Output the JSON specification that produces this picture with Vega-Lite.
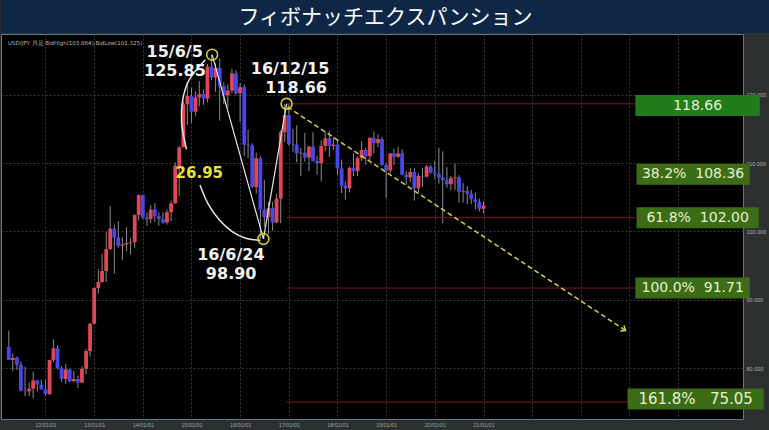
{
  "$schema": "https://vega.github.io/schema/vega-lite/v6.json",
  "background": "#2c3030",
  "padding": 0,
  "spacing": 0,
  "config": {"view": {"stroke": null}, "text": {"font": "DejaVu Sans"}},
  "datasets": {
    "candles": [
      {"d":"2011-04-01","o":83.1,"h":85.5,"l":81.3,"c":81.2},
      {"d":"2011-05-01","o":81.2,"h":82.2,"l":79.6,"c":81.5},
      {"d":"2011-06-01","o":81.5,"h":81.7,"l":79.7,"c":80.5},
      {"d":"2011-07-01","o":80.5,"h":81.0,"l":76.6,"c":76.7},
      {"d":"2011-08-01","o":76.7,"h":80.2,"l":75.9,"c":76.6},
      {"d":"2011-09-01","o":76.6,"h":77.9,"l":75.9,"c":77.0},
      {"d":"2011-10-01","o":77.0,"h":79.5,"l":75.6,"c":78.2},
      {"d":"2011-11-01","o":78.2,"h":78.3,"l":76.6,"c":77.6},
      {"d":"2011-12-01","o":77.6,"h":78.3,"l":76.8,"c":76.9},
      {"d":"2012-01-01","o":76.9,"h":78.3,"l":76.0,"c":76.2},
      {"d":"2012-02-01","o":76.2,"h":81.2,"l":76.1,"c":81.2},
      {"d":"2012-03-01","o":81.2,"h":84.2,"l":80.9,"c":82.9},
      {"d":"2012-04-01","o":82.9,"h":83.3,"l":79.8,"c":80.0},
      {"d":"2012-05-01","o":80.0,"h":80.3,"l":78.0,"c":78.4},
      {"d":"2012-06-01","o":78.4,"h":80.6,"l":77.7,"c":79.8},
      {"d":"2012-07-01","o":79.8,"h":79.9,"l":77.9,"c":78.1},
      {"d":"2012-08-01","o":78.1,"h":79.6,"l":78.0,"c":78.4},
      {"d":"2012-09-01","o":78.4,"h":78.9,"l":77.1,"c":77.9},
      {"d":"2012-10-01","o":77.9,"h":80.3,"l":77.8,"c":79.9},
      {"d":"2012-11-01","o":79.9,"h":82.8,"l":79.1,"c":82.5},
      {"d":"2012-12-01","o":82.5,"h":86.6,"l":81.7,"c":86.5},
      {"d":"2013-01-01","o":86.5,"h":91.8,"l":86.4,"c":91.7},
      {"d":"2013-02-01","o":91.7,"h":94.5,"l":90.9,"c":92.6},
      {"d":"2013-03-01","o":92.6,"h":96.7,"l":92.5,"c":94.2},
      {"d":"2013-04-01","o":94.2,"h":99.9,"l":92.6,"c":97.4},
      {"d":"2013-05-01","o":97.4,"h":103.7,"l":97.3,"c":100.4},
      {"d":"2013-06-01","o":100.4,"h":101.0,"l":93.8,"c":99.1},
      {"d":"2013-07-01","o":99.1,"h":101.5,"l":97.6,"c":97.9},
      {"d":"2013-08-01","o":97.9,"h":99.1,"l":95.8,"c":98.1},
      {"d":"2013-09-01","o":98.1,"h":100.6,"l":97.1,"c":98.3},
      {"d":"2013-10-01","o":98.3,"h":99.0,"l":96.6,"c":98.4},
      {"d":"2013-11-01","o":98.4,"h":102.5,"l":97.6,"c":102.4},
      {"d":"2013-12-01","o":102.4,"h":105.4,"l":101.6,"c":105.3},
      {"d":"2014-01-01","o":105.3,"h":105.4,"l":101.8,"c":102.0},
      {"d":"2014-02-01","o":102.0,"h":102.8,"l":100.8,"c":101.8},
      {"d":"2014-03-01","o":101.8,"h":103.8,"l":101.2,"c":103.2},
      {"d":"2014-04-01","o":103.2,"h":104.1,"l":101.4,"c":102.2},
      {"d":"2014-05-01","o":102.2,"h":102.8,"l":100.8,"c":101.8},
      {"d":"2014-06-01","o":101.8,"h":102.8,"l":101.1,"c":101.3},
      {"d":"2014-07-01","o":101.3,"h":103.2,"l":101.0,"c":102.8},
      {"d":"2014-08-01","o":102.8,"h":104.5,"l":101.5,"c":104.1},
      {"d":"2014-09-01","o":104.1,"h":110.1,"l":104.0,"c":109.6},
      {"d":"2014-10-01","o":109.6,"h":112.5,"l":105.2,"c":112.3},
      {"d":"2014-11-01","o":112.3,"h":119.0,"l":112.3,"c":118.6},
      {"d":"2014-12-01","o":118.6,"h":121.9,"l":115.6,"c":119.8},
      {"d":"2015-01-01","o":119.8,"h":121.0,"l":115.9,"c":117.5},
      {"d":"2015-02-01","o":117.5,"h":120.5,"l":116.9,"c":119.6},
      {"d":"2015-03-01","o":119.6,"h":122.0,"l":118.3,"c":120.1},
      {"d":"2015-04-01","o":120.1,"h":120.8,"l":118.5,"c":119.4},
      {"d":"2015-05-01","o":119.4,"h":124.5,"l":118.9,"c":124.1},
      {"d":"2015-06-01","o":124.1,"h":125.85,"l":122.1,"c":122.5},
      {"d":"2015-07-01","o":122.5,"h":124.6,"l":120.4,"c":123.9},
      {"d":"2015-08-01","o":123.9,"h":125.3,"l":116.2,"c":121.2},
      {"d":"2015-09-01","o":121.2,"h":121.8,"l":118.6,"c":119.9},
      {"d":"2015-10-01","o":119.9,"h":121.5,"l":118.1,"c":120.6},
      {"d":"2015-11-01","o":120.6,"h":123.8,"l":120.2,"c":123.1},
      {"d":"2015-12-01","o":123.1,"h":123.6,"l":119.9,"c":120.2},
      {"d":"2016-01-01","o":120.2,"h":121.7,"l":116.0,"c":121.1},
      {"d":"2016-02-01","o":121.1,"h":121.5,"l":111.0,"c":112.7},
      {"d":"2016-03-01","o":112.7,"h":114.9,"l":110.7,"c":112.6},
      {"d":"2016-04-01","o":112.6,"h":112.9,"l":106.3,"c":106.5},
      {"d":"2016-05-01","o":106.5,"h":111.5,"l":105.5,"c":110.7},
      {"d":"2016-06-01","o":110.7,"h":111.0,"l":98.9,"c":103.2},
      {"d":"2016-07-01","o":103.2,"h":107.5,"l":100.7,"c":102.1},
      {"d":"2016-08-01","o":102.1,"h":104.3,"l":99.6,"c":103.4},
      {"d":"2016-09-01","o":103.4,"h":104.3,"l":100.1,"c":101.3},
      {"d":"2016-10-01","o":101.3,"h":105.5,"l":101.2,"c":104.8},
      {"d":"2016-11-01","o":104.8,"h":114.8,"l":101.2,"c":114.5},
      {"d":"2016-12-01","o":114.5,"h":118.66,"l":113.1,"c":117.0},
      {"d":"2017-01-01","o":117.0,"h":118.6,"l":112.5,"c":112.8},
      {"d":"2017-02-01","o":112.8,"h":115.0,"l":111.6,"c":112.7},
      {"d":"2017-03-01","o":112.7,"h":115.5,"l":110.1,"c":111.4},
      {"d":"2017-04-01","o":111.4,"h":112.2,"l":108.1,"c":111.5},
      {"d":"2017-05-01","o":111.5,"h":114.4,"l":110.2,"c":110.8},
      {"d":"2017-06-01","o":110.8,"h":112.5,"l":108.8,"c":112.4},
      {"d":"2017-07-01","o":112.4,"h":114.5,"l":110.2,"c":110.3},
      {"d":"2017-08-01","o":110.3,"h":111.1,"l":108.3,"c":110.0},
      {"d":"2017-09-01","o":110.0,"h":113.3,"l":107.3,"c":112.5},
      {"d":"2017-10-01","o":112.5,"h":114.5,"l":111.7,"c":113.6},
      {"d":"2017-11-01","o":113.6,"h":114.7,"l":110.9,"c":112.5},
      {"d":"2017-12-01","o":112.5,"h":113.8,"l":111.9,"c":112.7},
      {"d":"2018-01-01","o":112.7,"h":113.4,"l":108.3,"c":109.2},
      {"d":"2018-02-01","o":109.2,"h":110.5,"l":105.6,"c":106.7},
      {"d":"2018-03-01","o":106.7,"h":107.3,"l":104.6,"c":106.3},
      {"d":"2018-04-01","o":106.3,"h":109.5,"l":105.7,"c":109.3},
      {"d":"2018-05-01","o":109.3,"h":111.4,"l":108.1,"c":108.8},
      {"d":"2018-06-01","o":108.8,"h":111.0,"l":108.1,"c":110.7},
      {"d":"2018-07-01","o":110.7,"h":113.2,"l":110.3,"c":111.9},
      {"d":"2018-08-01","o":111.9,"h":112.2,"l":109.8,"c":111.0},
      {"d":"2018-09-01","o":111.0,"h":113.7,"l":110.4,"c":113.7},
      {"d":"2018-10-01","o":113.7,"h":114.6,"l":111.4,"c":112.9},
      {"d":"2018-11-01","o":112.9,"h":114.2,"l":112.3,"c":113.5},
      {"d":"2018-12-01","o":113.5,"h":113.8,"l":109.6,"c":109.7},
      {"d":"2019-01-01","o":109.7,"h":110.0,"l":104.9,"c":108.9},
      {"d":"2019-02-01","o":108.9,"h":111.5,"l":108.5,"c":111.4},
      {"d":"2019-03-01","o":111.4,"h":112.1,"l":109.7,"c":110.9},
      {"d":"2019-04-01","o":110.9,"h":112.4,"l":110.8,"c":111.4},
      {"d":"2019-05-01","o":111.4,"h":112.0,"l":108.2,"c":108.3},
      {"d":"2019-06-01","o":108.3,"h":108.8,"l":106.8,"c":107.9},
      {"d":"2019-07-01","o":107.9,"h":109.3,"l":107.2,"c":108.7},
      {"d":"2019-08-01","o":108.7,"h":109.3,"l":104.5,"c":106.3},
      {"d":"2019-09-01","o":106.3,"h":108.5,"l":105.7,"c":108.1},
      {"d":"2019-10-01","o":108.1,"h":109.3,"l":106.5,"c":108.0},
      {"d":"2019-11-01","o":108.0,"h":109.7,"l":107.9,"c":109.5},
      {"d":"2019-12-01","o":109.5,"h":109.7,"l":108.4,"c":108.6},
      {"d":"2020-01-01","o":108.6,"h":110.3,"l":107.7,"c":108.4},
      {"d":"2020-02-01","o":108.4,"h":112.2,"l":107.0,"c":107.9},
      {"d":"2020-03-01","o":107.9,"h":111.7,"l":101.2,"c":107.5},
      {"d":"2020-04-01","o":107.5,"h":109.4,"l":106.4,"c":106.9},
      {"d":"2020-05-01","o":106.9,"h":108.1,"l":106.0,"c":107.8},
      {"d":"2020-06-01","o":107.8,"h":109.9,"l":106.1,"c":107.9},
      {"d":"2020-07-01","o":107.9,"h":108.2,"l":104.2,"c":105.8},
      {"d":"2020-08-01","o":105.8,"h":107.1,"l":104.2,"c":105.9},
      {"d":"2020-09-01","o":105.9,"h":106.6,"l":104.0,"c":105.5},
      {"d":"2020-10-01","o":105.5,"h":106.1,"l":104.0,"c":104.7},
      {"d":"2020-11-01","o":104.7,"h":105.7,"l":103.2,"c":104.3},
      {"d":"2020-12-01","o":104.3,"h":104.8,"l":102.9,"c":103.3},
      {"d":"2021-01-01","o":103.3,"h":104.4,"l":102.6,"c":103.8}
    ],
    "fibLines": [
      {"v":118.66,"from":"2016-12-15","to":"2024-02-15"},
      {"v":102.00,"from":"2016-12-15","to":"2024-02-20"},
      {"v":91.71,"from":"2016-12-15","to":"2024-02-15"},
      {"v":75.05,"from":"2016-12-15","to":"2023-12-18"}
    ],
    "fibBoxes": [
      {"label":"118.66","ratio":0,"v":118.4,"boxFrom":"2024-02-15","boxTo":"2026-09-05","mid":"2025-05-27"},
      {"label":"38.2%\u00a0\u00a0108.36","ratio":38.2,"v":108.36,"boxFrom":"2024-02-23","boxTo":"2026-06-23","mid":"2025-04-23"},
      {"label":"61.8%\u00a0\u00a0102.00","ratio":61.8,"v":102.0,"boxFrom":"2024-02-23","boxTo":"2026-08-29","mid":"2025-05-27"},
      {"label":"100.0%\u00a0\u00a091.71","ratio":100,"v":91.71,"boxFrom":"2024-02-15","boxTo":"2026-06-23","mid":"2025-04-20"},
      {"label":"161.8%\u00a0\u00a0\u00a075.05","ratio":161.8,"v":75.5,"boxFrom":"2023-12-18","boxTo":"2026-10-05","mid":"2025-05-12"}
    ],
    "pivots": [
      {"d":"2015-06-05","v":125.85},
      {"d":"2016-06-24","v":98.90},
      {"d":"2016-12-15","v":118.66}
    ],
    "arcs": [
      {"arc":"upper","i":0,"d":"2015-04-15","v":125.1},
      {"arc":"upper","i":1,"d":"2014-12-10","v":122.0},
      {"arc":"upper","i":2,"d":"2014-10-26","v":119.1},
      {"arc":"upper","i":3,"d":"2014-10-19","v":115.9},
      {"arc":"upper","i":4,"d":"2014-11-25","v":112.0},
      {"arc":"lower","i":0,"d":"2015-03-06","v":106.8},
      {"arc":"lower","i":1,"d":"2015-05-07","v":104.0},
      {"arc":"lower","i":2,"d":"2015-08-02","v":101.6},
      {"arc":"lower","i":3,"d":"2015-11-08","v":99.9},
      {"arc":"lower","i":4,"d":"2016-02-12","v":99.0},
      {"arc":"lower","i":5,"d":"2016-06-02","v":98.7}
    ],
    "arrow": [
      {"d":"2016-12-22","v":118.2,"end":0},
      {"d":"2023-12-03","v":85.5,"end":1}
    ],
    "notes": [
      {"t":"15/6/5","d":"2014-08-28","v":126.2,"k":"w"},
      {"t":"125.85","d":"2014-08-30","v":123.5,"k":"w"},
      {"t":"16/12/15","d":"2017-01-10","v":123.7,"k":"w"},
      {"t":"118.66","d":"2017-02-24","v":120.9,"k":"w"},
      {"t":"16/6/24","d":"2015-10-24","v":96.6,"k":"w"},
      {"t":"98.90","d":"2015-10-26","v":93.7,"k":"w"},
      {"t":"26.95","d":"2015-03-01","v":108.6,"k":"y"}
    ],
    "header": [
      {"t":"USD/JPY 月足  BidHigh(103.864),BidLow(101.325)","d":"2011-03-26","v":127.6}
    ]
  },
  "vconcat": [
    {
      "width": 769,
      "height": 33,
      "view": {"fill": "#0f2747", "stroke": null},
      "data": {"values": [{"t": "フィボナッチエクスパンション"}]},
      "mark": {"type": "text", "font": "Noto Sans CJK JP", "fontSize": 21, "color": "#ffffff", "align": "center", "baseline": "middle", "dy": 1},
      "encoding": {"text": {"field": "t"}}
    },
    {
      "width": 742,
      "height": 385,
      "view": {"fill": "#000000", "stroke": "#557f8a", "strokeWidth": 1},
      "layer": [
        {
          "data": {"name": "candles"},
          "mark": {"type": "rule", "color": "#8c8c8c", "strokeWidth": 1},
          "encoding": {
            "x": {"field": "d", "type": "temporal", "title": null,
              "scale": {"type": "utc", "domain": [{"year": 2011, "month": 3, "date": 11, "utc": true}, {"year": 2026, "month": 3, "date": 26, "utc": true}]},
              "axis": {"orient": "bottom", "title": null,
                "values": [{"year":2012,"month":1,"date":1,"utc":true},{"year":2013,"month":1,"date":1,"utc":true},{"year":2014,"month":1,"date":1,"utc":true},{"year":2015,"month":1,"date":1,"utc":true},{"year":2016,"month":1,"date":1,"utc":true},{"year":2017,"month":1,"date":1,"utc":true},{"year":2018,"month":1,"date":1,"utc":true},{"year":2019,"month":1,"date":1,"utc":true},{"year":2020,"month":1,"date":1,"utc":true},{"year":2021,"month":1,"date":1,"utc":true},{"year":2022,"month":1,"date":1,"utc":true},{"year":2023,"month":1,"date":1,"utc":true},{"year":2024,"month":1,"date":1,"utc":true},{"year":2025,"month":1,"date":1,"utc":true}],
                "labelExpr": "utcyear(datum.value) <= 2021 ? utcFormat(datum.value, '%y/%m/%d') : ''",
                "labelFontSize": 5.5, "labelColor": "#9aa0a0", "labelPadding": 3, "labelFlush": false, "labelOverlap": false,
                "ticks": false, "domain": false,
                "grid": true, "gridColor": "#3a3a3a", "gridDash": [2, 2], "gridWidth": 1,
                "minExtent": 12, "maxExtent": 12}},
            "y": {"field": "l", "type": "quantitative", "title": null,
              "scale": {"domain": [73.29, 128.14], "nice": false, "zero": false},
              "axis": {"orient": "right", "title": null, "values": [80, 90, 100, 110, 120], "format": ".3f",
                "labelFontSize": 5.5, "labelColor": "#b0b0b0", "labelPadding": 3, "labelBaseline": "middle",
                "ticks": false, "domain": false,
                "grid": true, "gridColor": "#3a3a3a", "gridDash": [2, 2], "gridWidth": 1,
                "minExtent": 27, "maxExtent": 27}},
            "y2": {"field": "h"}
          }
        },
        {
          "data": {"name": "candles"},
          "mark": {"type": "bar", "size": 3.8},
          "encoding": {
            "x": {"field": "d", "type": "temporal", "title": null},
            "y": {"field": "o", "type": "quantitative", "title": null},
            "y2": {"field": "c"},
            "color": {"condition": {"test": "datum.c >= datum.o", "value": "#e04858"}, "value": "#4848ea"}
          }
        },
        {
          "data": {"name": "fibLines"},
          "mark": {"type": "rule", "color": "#7a1a1a", "strokeWidth": 1},
          "encoding": {
            "x": {"field": "from", "type": "temporal", "title": null},
            "x2": {"field": "to"},
            "y": {"field": "v", "type": "quantitative", "title": null}
          }
        },
        {
          "data": {"name": "fibBoxes"},
          "mark": {"type": "bar", "size": 21},
          "encoding": {
            "x": {"field": "boxFrom", "type": "temporal", "title": null},
            "x2": {"field": "boxTo"},
            "y": {"field": "v", "type": "quantitative", "title": null},
            "color": {"condition": {"test": "datum.ratio == 0", "value": "#217d1c"}, "value": "#3c6c16"}
          }
        },
        {
          "data": {"name": "fibBoxes"},
          "mark": {"type": "text", "font": "DejaVu Sans", "color": "#e4f2d2", "align": "center", "baseline": "middle"},
          "encoding": {
            "x": {"field": "mid", "type": "temporal", "title": null},
            "y": {"field": "v", "type": "quantitative", "title": null},
            "text": {"field": "label"},
            "size": {"condition": {"test": "datum.ratio > 150", "value": 15}, "value": 14}
          }
        },
        {
          "data": {"name": "pivots"},
          "mark": {"type": "line", "color": "#e6e6e6", "strokeWidth": 1.2},
          "encoding": {
            "x": {"field": "d", "type": "temporal", "title": null},
            "y": {"field": "v", "type": "quantitative", "title": null}
          }
        },
        {
          "data": {"name": "arcs"},
          "mark": {"type": "line", "color": "#e6e6e6", "strokeWidth": 1.5, "interpolate": "catmull-rom"},
          "encoding": {
            "x": {"field": "d", "type": "temporal", "title": null},
            "y": {"field": "v", "type": "quantitative", "title": null},
            "detail": {"field": "arc"},
            "order": {"field": "i"}
          }
        },
        {
          "data": {"name": "arrow"},
          "mark": {"type": "line", "color": "#d8d040", "strokeWidth": 1.5, "strokeDash": [5, 3]},
          "encoding": {
            "x": {"field": "d", "type": "temporal", "title": null},
            "y": {"field": "v", "type": "quantitative", "title": null}
          }
        },
        {
          "data": {"name": "arrow"},
          "transform": [{"filter": "datum.end == 1"}],
          "mark": {"type": "point", "shape": "M -1 -0.8 L 0 0 L -1 0.8", "filled": false, "stroke": "#d8d040", "strokeWidth": 1.5, "size": 70, "angle": 34, "opacity": 1},
          "encoding": {
            "x": {"field": "d", "type": "temporal", "title": null},
            "y": {"field": "v", "type": "quantitative", "title": null}
          }
        },
        {
          "data": {"name": "pivots"},
          "mark": {"type": "point", "shape": "circle", "filled": false, "stroke": "#d8cc3a", "strokeWidth": 1.6, "size": 120, "opacity": 1},
          "encoding": {
            "x": {"field": "d", "type": "temporal", "title": null},
            "y": {"field": "v", "type": "quantitative", "title": null}
          }
        },
        {
          "data": {"name": "notes"},
          "mark": {"type": "text", "font": "DejaVu Sans", "fontWeight": "bold", "align": "center", "baseline": "middle"},
          "encoding": {
            "x": {"field": "d", "type": "temporal", "title": null},
            "y": {"field": "v", "type": "quantitative", "title": null},
            "text": {"field": "t"},
            "color": {"condition": {"test": "datum.k == 'y'", "value": "#e8e23a"}, "value": "#f2f2f2"},
            "size": {"condition": {"test": "datum.k == 'y'", "value": 15}, "value": 16}
          }
        },
        {
          "data": {"name": "header"},
          "mark": {"type": "text", "font": "DejaVu Sans", "fontSize": 5.5, "color": "#b8b8b8", "align": "left", "baseline": "middle"},
          "encoding": {
            "x": {"field": "d", "type": "temporal", "title": null},
            "y": {"field": "v", "type": "quantitative", "title": null},
            "text": {"field": "t"}
          }
        }
      ]
    }
  ]
}
